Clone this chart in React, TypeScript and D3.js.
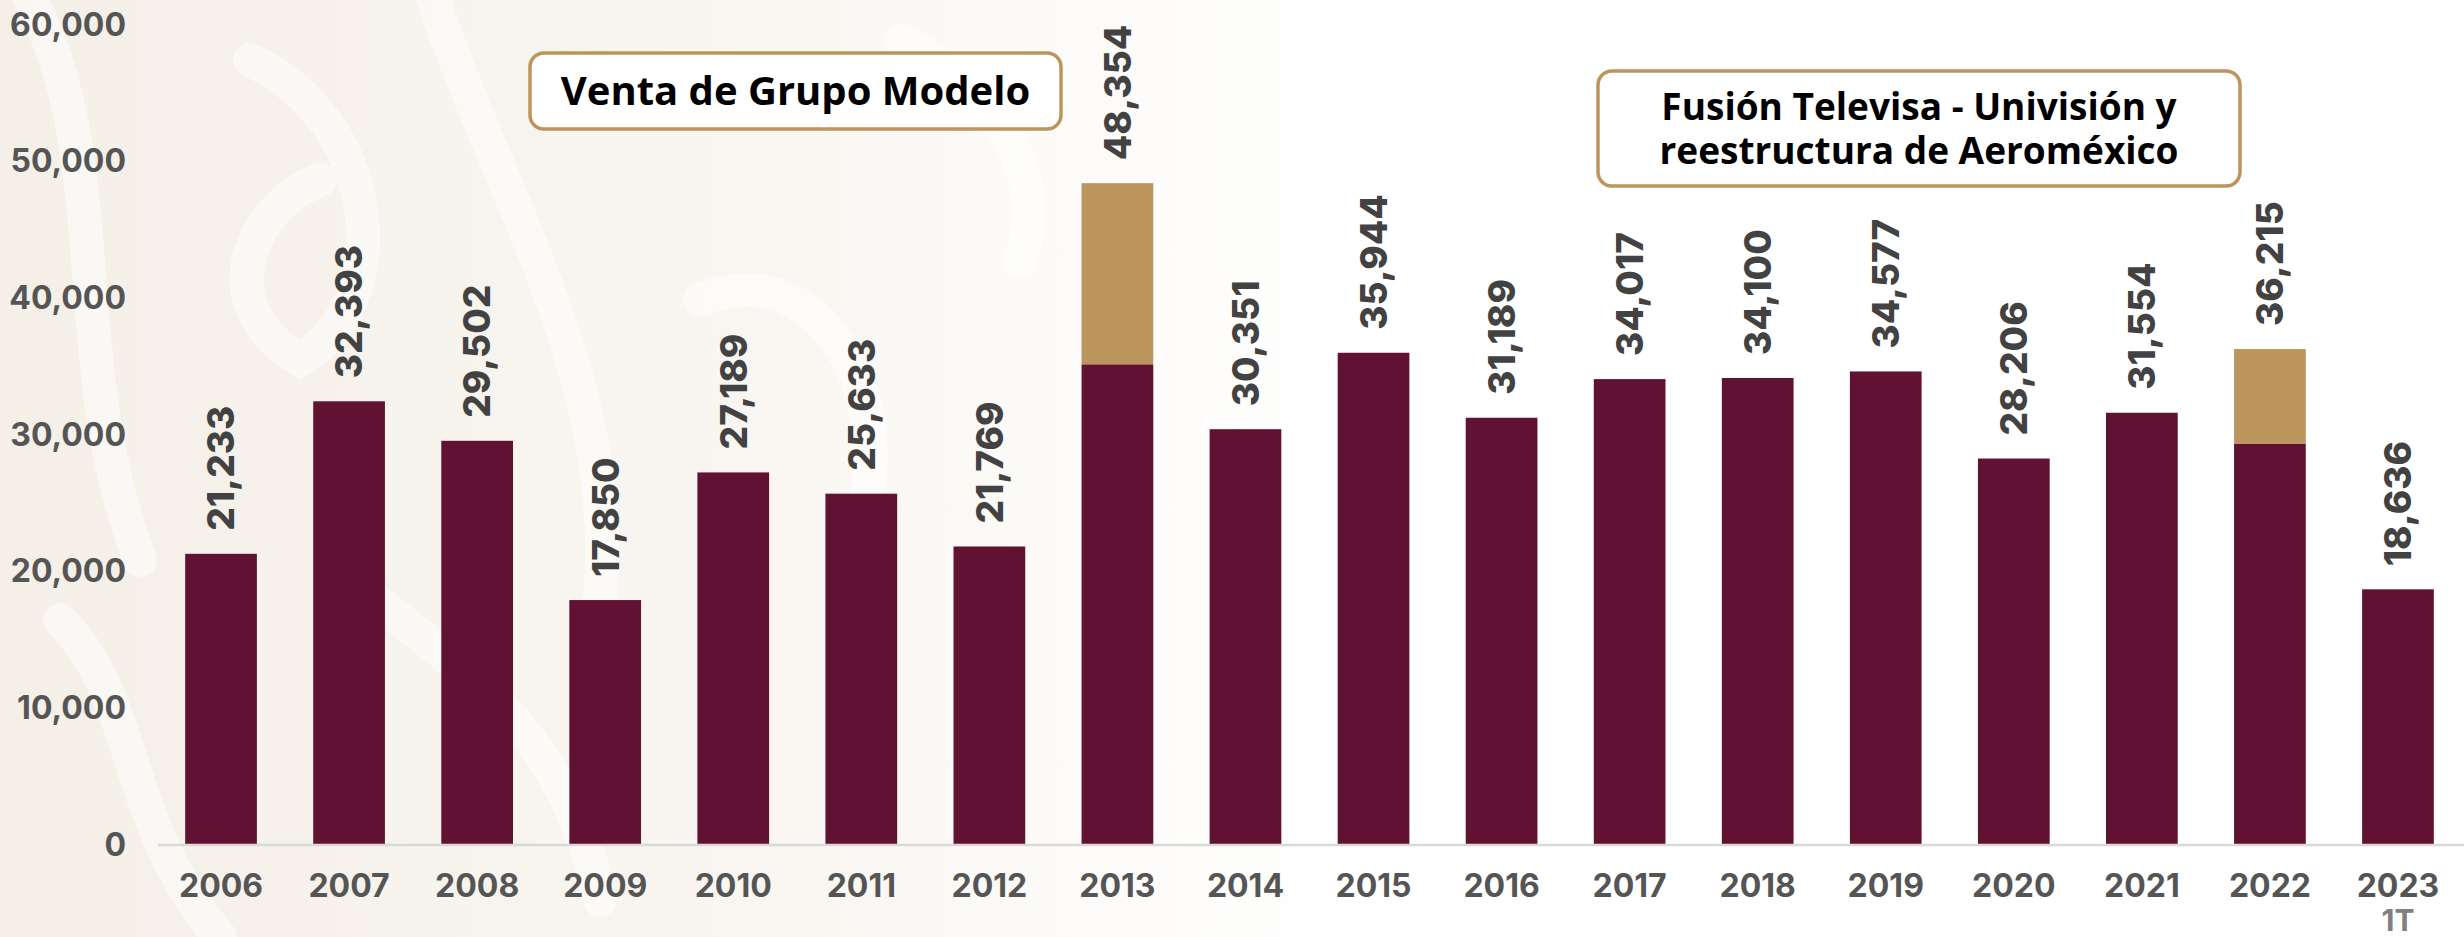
import React, { useRef, useEffect } from "react";
import * as d3 from "d3";

const years = ["2006", "2007", "2008", "2009", "2010", "2011", "2012", "2013", "2014", "2015", "2016", "2017", "2018", "2019", "2020", "2021", "2022", "2023"];
const yearNotes = ["", "", "", "", "", "", "", "", "", "", "", "", "", "", "", "", "", "1T"];
// total per year (label value)
const totals = [21233, 32393, 29502, 17850, 27189, 25633, 21769, 48354, 30351, 35944, 31189, 34017, 34100, 34577, 28206, 31554, 36215, 18636];
// regular part (maroon); the rest is the extraordinary part (gold)
const baseValues = [21233, 32393, 29502, 17850, 27189, 25633, 21769, 35100, 30351, 35944, 31189, 34017, 34100, 34577, 28206, 31554, 29300, 18636];
const yTicks = [0, 10000, 20000, 30000, 40000, 50000, 60000];

const notes = [
  { lines: ["Venta de Grupo Modelo"], x0: 530, x1: 1061, y0: 53, y1: 129, size: 40 },
  { lines: ["Fusión Televisa - Univisión y", "reestructura de Aeroméxico"], x0: 1598, x1: 2240, y0: 71, y1: 186, size: 37 },
];

const W = 2464;
const H = 937;

export default function App() {
  const svgRef = useRef<SVGSVGElement>(null);

  useEffect(() => {
    if (!svgRef.current) return;
    document.body.style.margin = "0";
    const svg = d3.select(svgRef.current);
    svg.selectAll("*").remove();

    const maroon = "#611232";
    const gold = "#bc955c";
    const numFont = "Inter, 'DejaVu Sans', sans-serif";

    // fondo crema que se desvanece hacia la derecha
    const defs = svg.append("defs");
    const grad = defs
      .append("linearGradient")
      .attr("id", "bg")
      .attr("x1", "0")
      .attr("x2", "1")
      .attr("y1", "0")
      .attr("y2", "0");
    grad.append("stop").attr("offset", "0").attr("stop-color", "#f4efe7");
    grad.append("stop").attr("offset", "0.3").attr("stop-color", "#f9f6f1");
    grad.append("stop").attr("offset", "0.55").attr("stop-color", "#ffffff");
    svg.append("rect").attr("width", W).attr("height", H).attr("fill", "url(#bg)");

    // trazos decorativos blancos
    const deco = [
      "M 20 -20 C 120 150, 60 350, 140 560",
      "M 250 60 C 380 120, 400 300, 300 360 C 200 300, 260 200, 320 180",
      "M 430 -10 C 500 200, 620 380, 600 600",
      "M 700 300 C 820 250, 900 400, 860 520",
      "M 60 620 C 140 700, 120 820, 220 937",
      "M 330 560 C 420 650, 560 700, 600 900",
      "M 900 40 C 1000 90, 1050 180, 1020 260",
    ];
    svg
      .append("g")
      .selectAll("path")
      .data(deco)
      .join("path")
      .attr("d", (d) => d)
      .attr("fill", "none")
      .attr("stroke", "#ffffff")
      .attr("stroke-width", 34)
      .attr("stroke-linecap", "round")
      .attr("opacity", 0.5);

    const x = d3
      .scaleBand<string>()
      .domain(years)
      .range([157, 2462])
      .paddingInner(0.44)
      .paddingOuter(0.22);
    const y = d3.scaleLinear().domain([0, 60000]).range([844, 24]);

    // eje Y
    svg
      .append("g")
      .selectAll("text")
      .data(yTicks)
      .join("text")
      .attr("x", 126)
      .attr("y", (d) => y(d))
      .attr("dy", "0.36em")
      .attr("text-anchor", "end")
      .style("font-family", numFont)
      .style("font-weight", 700)
      .style("font-size", "32px")
      .style("fill", "#555555")
      .text((d) => d3.format(",")(d));

    // barras
    const rows = years.map((yr, i) => ({ yr, base: baseValues[i], total: totals[i] }));
    const bars = svg.append("g");
    bars
      .selectAll("rect.base")
      .data(rows)
      .join("rect")
      .attr("class", "base")
      .attr("x", (d) => x(d.yr)!)
      .attr("width", x.bandwidth())
      .attr("y", (d) => y(d.base))
      .attr("height", (d) => y(0) - y(d.base))
      .attr("fill", maroon);
    bars
      .selectAll("rect.extra")
      .data(rows.filter((d) => d.total > d.base))
      .join("rect")
      .attr("class", "extra")
      .attr("x", (d) => x(d.yr)!)
      .attr("width", x.bandwidth())
      .attr("y", (d) => y(d.total))
      .attr("height", (d) => y(d.base) - y(d.total))
      .attr("fill", gold);

    // línea base
    svg
      .append("line")
      .attr("x1", 158)
      .attr("x2", W)
      .attr("y1", y(0) + 1)
      .attr("y2", y(0) + 1)
      .attr("stroke", "#d9d9d9")
      .attr("stroke-width", 2.5);

    // etiquetas de valor
    svg
      .append("g")
      .selectAll("text")
      .data(rows)
      .join("text")
      .attr("transform", (d) => `translate(${x(d.yr)! + x.bandwidth() / 2},${y(d.total) - 23}) rotate(-90)`)
      .attr("dy", "0.36em")
      .attr("text-anchor", "start")
      .style("font-family", numFont)
      .style("font-weight", 800)
      .style("font-size", "37px")
      .style("fill", "#424242")
      .text((d) => d3.format(",")(d.total));

    // etiquetas del eje X
    const xl = svg.append("g");
    xl.selectAll("text.yr")
      .data(years)
      .join("text")
      .attr("class", "yr")
      .attr("x", (d) => x(d)! + x.bandwidth() / 2)
      .attr("y", 885)
      .attr("dy", "0.36em")
      .attr("text-anchor", "middle")
      .style("font-family", numFont)
      .style("font-weight", 700)
      .style("font-size", "32px")
      .style("fill", "#555555")
      .text((d) => d);
    xl.selectAll("text.note")
      .data(years.map((d, i) => ({ d, n: yearNotes[i] })).filter((e) => e.n))
      .join("text")
      .attr("class", "note")
      .attr("x", (e) => x(e.d)! + x.bandwidth() / 2)
      .attr("y", 920)
      .attr("dy", "0.36em")
      .attr("text-anchor", "middle")
      .style("font-family", numFont)
      .style("font-weight", 700)
      .style("font-size", "30px")
      .style("fill", "#808080")
      .text((e) => e.n);

    // recuadros de anotación
    notes.forEach((n) => {
      const g = svg.append("g");
      g.append("rect")
        .attr("x", n.x0)
        .attr("y", n.y0)
        .attr("width", n.x1 - n.x0)
        .attr("height", n.y1 - n.y0)
        .attr("rx", 14)
        .attr("fill", "#ffffff")
        .attr("stroke", gold)
        .attr("stroke-width", 3.5);
      const cy = (n.y0 + n.y1) / 2;
      const lh = 44;
      n.lines.forEach((t, i) => {
        g.append("text")
          .attr("x", (n.x0 + n.x1) / 2)
          .attr("y", cy + (i - (n.lines.length - 1) / 2) * lh)
          .attr("dy", "0.36em")
          .attr("text-anchor", "middle")
          .style("font-family", "'Open Sans', sans-serif")
          .style("font-weight", "bold")
          .style("font-size", `${n.size}px`)
          .style("fill", "#000000")
          .text(t);
      });
    });
  }, []);

  return (
    <svg
      ref={svgRef}
      width={W}
      height={H}
      viewBox={`0 0 ${W} ${H}`}
      style={{ display: "block", position: "absolute", left: 0, top: 0 }}
    />
  );
}
